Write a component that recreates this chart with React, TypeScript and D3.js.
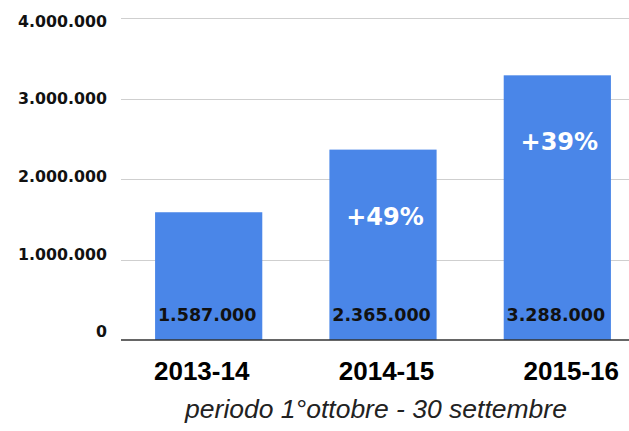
import { useEffect, useRef } from 'react'
import * as d3 from 'd3'

// Passeggeri per stagione (1° ottobre - 30 settembre)
const categories = ['2013-14', '2014-15', '2015-16']
const passengers = [1587000, 2365000, 3288000]
const yTicks = [0, 1000000, 2000000, 3000000, 4000000]
const subtitle = 'periodo 1°ottobre - 30 settembre'

const WIDTH = 629
const HEIGHT = 431
const BAR_COLOR = '#4a86e8'
const NUM_FONT = '"DejaVu Sans", sans-serif'
const ARIAL = '"Liberation Sans", Arial, sans-serif'

const fmt = (v: number) => d3.format(',')(v).replace(/,/g, '.')

export default function App() {
  const svgRef = useRef<SVGSVGElement | null>(null)

  useEffect(() => {
    const el = svgRef.current
    if (!el) return
    const svg = d3.select(el)
    svg.selectAll('*').remove()

    const left = 121
    const right = 645
    const y = d3.scaleLinear().domain([0, 4000000]).range([340, 18])
    const x = d3.scaleBand<string>()
      .domain(categories)
      .range([left, right])
      .paddingInner(0.385)
      .paddingOuter(0.1955)
    // tick labels sit slightly off the grid in the original
    const labelY = y.copy().range([337.3, 26.7])
    const catX = d3.scalePoint<string>().domain(categories).range([201.7, 571.3])

    const data = categories.map((c, i) => ({
      cat: c,
      value: passengers[i],
      growth: i > 0 ? Math.round((passengers[i] / passengers[i - 1] - 1) * 100) : null,
    }))

    // gridlines
    svg.append('g')
      .selectAll('line')
      .data(yTicks.filter(t => t > 0))
      .join('line')
      .attr('x1', left)
      .attr('x2', right)
      .attr('y1', d => Math.round(y(d)) + 0.5)
      .attr('y2', d => Math.round(y(d)) + 0.5)
      .attr('stroke', '#cfcfcf')
      .attr('stroke-width', 1.2)

    // y labels
    svg.append('g')
      .selectAll('text')
      .data(yTicks)
      .join('text')
      .attr('x', 107)
      .attr('y', d => labelY(d))
      .attr('text-anchor', 'end')
      .attr('font-family', NUM_FONT)
      .attr('font-weight', 'bold')
      .attr('font-size', '15.8px')
      .attr('fill', '#111')
      .text(d => fmt(d))

    // bars
    svg.append('g')
      .selectAll('rect')
      .data(data)
      .join('rect')
      .attr('x', d => x(d.cat)!)
      .attr('y', d => y(d.value))
      .attr('width', x.bandwidth())
      .attr('height', d => y(0) - y(d.value))
      .attr('fill', BAR_COLOR)

    // baseline
    svg.append('line')
      .attr('x1', left)
      .attr('x2', right)
      .attr('y1', y(0))
      .attr('y2', y(0))
      .attr('stroke', '#333')
      .attr('stroke-width', 1.3)

    // value labels inside bars
    svg.append('g')
      .selectAll('text')
      .data(data)
      .join('text')
      .attr('x', d => x(d.cat)! + x.bandwidth() / 2 - 1.5)
      .attr('y', y(0) - 19)
      .attr('text-anchor', 'middle')
      .attr('font-family', NUM_FONT)
      .attr('font-weight', 'bold')
      .attr('font-size', '17.5px')
      .attr('fill', '#111')
      .text(d => fmt(d.value))

    // growth labels
    svg.append('g')
      .selectAll('text')
      .data(data.filter(d => d.growth !== null))
      .join('text')
      .attr('x', d => x(d.cat)! + x.bandwidth() / 2 + 2)
      .attr('y', d => y(d.value) + 75)
      .attr('text-anchor', 'middle')
      .attr('font-family', NUM_FONT)
      .attr('font-weight', 'bold')
      .attr('font-size', '24px')
      .attr('fill', '#fff')
      .text(d => `+${d.growth}%`)

    // category labels
    svg.append('g')
      .selectAll('text')
      .data(categories)
      .join('text')
      .attr('x', d => catX(d)!)
      .attr('y', 380)
      .attr('text-anchor', 'middle')
      .attr('font-family', ARIAL)
      .attr('font-weight', 'bold')
      .attr('font-size', '26px')
      .attr('fill', '#000')
      .text(d => d)

    svg.append('text')
      .attr('x', 376)
      .attr('y', 418)
      .attr('text-anchor', 'middle')
      .attr('font-family', ARIAL)
      .attr('font-style', 'italic')
      .attr('font-size', '26.5px')
      .attr('fill', '#222')
      .text(subtitle)
  }, [])

  return (
    <svg
      ref={svgRef}
      width={WIDTH}
      height={HEIGHT}
      style={{ position: 'absolute', left: 0, top: 0, display: 'block', background: '#fff' }}
    />
  )
}
